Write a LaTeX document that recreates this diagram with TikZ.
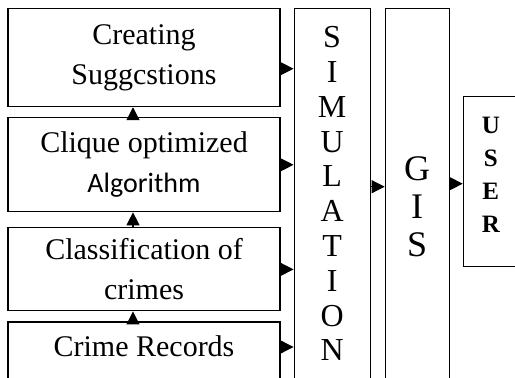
\documentclass[tikz,border=0pt]{standalone}
\usepackage{fontspec}
\setmainfont{Liberation Serif}
\newfontfamily\algfont{Carlito}
\usetikzlibrary{positioning,arrows.meta}

\begin{document}
\begin{tikzpicture}[x=1pt,y=1pt,node distance=10pt]
\tikzstyle{block} = [rectangle, draw, line width=1.1pt, minimum width=272pt, align=center, font=\fontsize{30}{40}\selectfont]
\tikzstyle{tall} = [rectangle, draw, line width=1.1pt, inner sep=0pt, align=center]
\tikzstyle{arrow} = [line width=1.1pt, ->, >={Triangle[length=13pt,width=13pt]}]

\useasboundingbox (0,0) rectangle (515,378);
\clip (0,0) rectangle (515,378);

\node (records) [block, text height=22pt, text depth=24pt, minimum height=72pt] at (144,20) {Crime Records};
\node (clazz) [block, minimum height=83pt, above=of records] {Classification of\\crimes};
\node (clique) [block, minimum height=94pt, above=15pt of clazz] {Clique optimized\\{\algfont\fontsize{28}{40}\selectfont Algorithm}};
\node (sugg) [block, minimum height=98pt, above=of clique] {Creating\\Suggcstions};

\node (sim) [tall, minimum width=76pt, minimum height=370pt, font=\fontsize{32}{34.8}\selectfont, right=13pt of sugg.north east, anchor=north west] {S\\I\\M\\U\\L\\A\\T\\I\\O\\N};
\node (gis) [tall, minimum width=64pt, minimum height=370pt, font=\fontsize{36}{38}\selectfont, right=14pt of sim.north east, anchor=north west] {G\rule{0pt}{50pt}\\I\\S};
\node (user) [tall, minimum width=55pt, minimum height=170pt, font=\bfseries\fontsize{25}{33}\selectfont, right=13pt of gis.east, yshift=12pt] {U\\S\\E\\R\rule[-14pt]{0pt}{14pt}};

% upward flow
\draw [arrow] ([xshift=-11pt]records.north) -- ([xshift=-11pt]clazz.south);
\draw [arrow] ([xshift=-11pt]clazz.north) -- ([xshift=-11pt]clique.south);
\draw [arrow] ([xshift=-11pt]clique.north) -- ([xshift=-11pt]sugg.south);

% into simulation
\draw [arrow] ([yshift=-11pt]sugg.east) -- ([yshift=-11pt]sugg.east -| sim.west);
\draw [arrow] (clique.east) -- (clique.east -| sim.west);
\draw [arrow] (clazz.east) -- (clazz.east -| sim.west);
\draw [arrow] ([yshift=11pt]records.east) -- ([yshift=11pt]records.east -| sim.west);

\draw [arrow] ([yshift=7pt]sim.east) -- ([yshift=7pt]sim.east -| gis.west);
\draw [arrow] ([yshift=10pt]gis.east) -- ([yshift=10pt]gis.east -| user.west);

\end{tikzpicture}
\end{document}
